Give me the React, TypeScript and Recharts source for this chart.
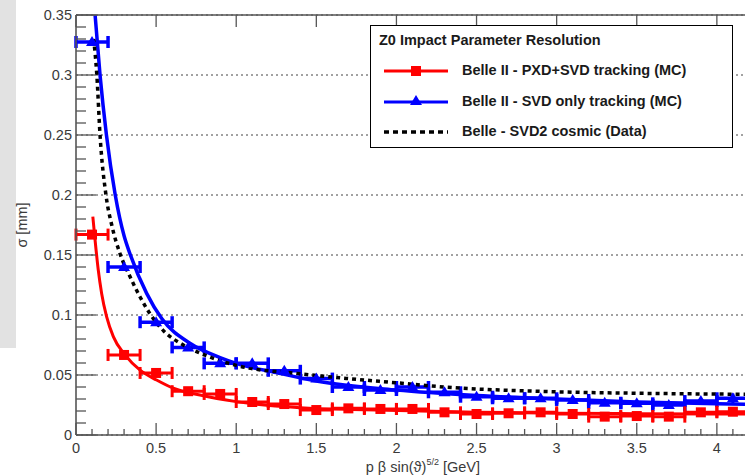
import React from 'react';
import { ComposedChart, Line, Scatter, XAxis, YAxis, CartesianGrid, ErrorBar } from 'recharts';

// bin centres (p beta sin^{5/2}) and half width
const binX = [0.1, 0.3, 0.5, 0.7, 0.9, 1.1, 1.3, 1.5, 1.7, 1.9, 2.1, 2.3, 2.5, 2.7, 2.9, 3.1, 3.3, 3.5, 3.7, 3.9, 4.1];
const binHalf = [0.1, 0.1, 0.1, 0.1, 0.1, 0.1, 0.1, 0.1, 0.1, 0.1, 0.1, 0.1, 0.1, 0.1, 0.1, 0.1, 0.1, 0.1, 0.1, 0.1, 0.1];

// Belle II - PXD+SVD tracking (MC)
const redSigma = [0.167, 0.0667, 0.0517, 0.0365, 0.0342, 0.0275, 0.0258, 0.0208, 0.0222, 0.0217, 0.0217, 0.0189, 0.0175, 0.0181, 0.0189, 0.0175, 0.0153, 0.0158, 0.0153, 0.0189, 0.0194];
const redErr = [0.002, 0.0015, 0.0015, 0.001, 0.001, 0.001, 0.001, 0.001, 0.001, 0.001, 0.001, 0.001, 0.001, 0.001, 0.001, 0.001, 0.001, 0.001, 0.001, 0.0015, 0.002];

// Belle II - SVD only tracking (MC)
const blueSigma = [0.3275, 0.14, 0.094, 0.073, 0.0597, 0.0597, 0.0535, 0.047, 0.04, 0.0375, 0.04, 0.0356, 0.0319, 0.0306, 0.0306, 0.0292, 0.0269, 0.0264, 0.025, 0.0283, 0.0306];
const blueErr = [0.002, 0.002, 0.0015, 0.0015, 0.001, 0.001, 0.001, 0.001, 0.001, 0.001, 0.003, 0.001, 0.001, 0.001, 0.001, 0.001, 0.001, 0.001, 0.001, 0.002, 0.004];

// fit curves
const redFitX = [0.105, 0.119, 0.139, 0.16, 0.191, 0.233, 0.306, 0.4, 0.503, 0.607, 0.774, 1.0, 1.4, 1.8, 2.5, 3.0, 3.5, 4.0, 4.6];
const redFitY = [0.182, 0.1625, 0.1375, 0.118, 0.0986, 0.082, 0.0667, 0.054, 0.0458, 0.039, 0.0333, 0.0278, 0.0228, 0.021, 0.019, 0.0182, 0.0178, 0.0175, 0.0172];

const blueFitX = [0.113, 0.15, 0.19, 0.245, 0.3, 0.337, 0.441, 0.535, 0.711, 0.899, 1.0, 1.25, 1.5, 2.0, 2.5, 3.0, 3.5, 4.0, 4.6];
const blueFitY = [0.36, 0.3, 0.25, 0.2, 0.166, 0.151, 0.118, 0.097, 0.0764, 0.0645, 0.0597, 0.052, 0.045, 0.0375, 0.033, 0.03, 0.0275, 0.026, 0.025];

const cosmicX = [0.11, 0.13, 0.15, 0.187, 0.223, 0.275, 0.337, 0.4, 0.462, 0.545, 0.67, 0.836, 1.0, 1.4, 1.7, 2.0, 2.3, 3.0, 3.5, 4.1, 4.6];
const cosmicY = [0.33, 0.3, 0.25, 0.2, 0.175, 0.151, 0.132, 0.115, 0.101, 0.087, 0.075, 0.065, 0.058, 0.051, 0.047, 0.0435, 0.04, 0.036, 0.0348, 0.034, 0.0335];

// axes
const yTicks = [0, 0.01, 0.02, 0.03, 0.04, 0.05, 0.06, 0.07, 0.08, 0.09, 0.1, 0.11, 0.12, 0.13, 0.14, 0.15, 0.16, 0.17, 0.18, 0.19, 0.2, 0.21, 0.22, 0.23, 0.24, 0.25, 0.26, 0.27, 0.28, 0.29, 0.3, 0.31, 0.32, 0.33, 0.34, 0.35];
const yMajor = [0, 0.05, 0.1, 0.15, 0.2, 0.25, 0.3, 0.35];
const yLabels = ['0', '0.05', '0.1', '0.15', '0.2', '0.25', '0.3', '0.35'];
const xTicks = [0, 0.1, 0.2, 0.3, 0.4, 0.5, 0.6, 0.7, 0.8, 0.9, 1, 1.1, 1.2, 1.3, 1.4, 1.5, 1.6, 1.7, 1.8, 1.9, 2, 2.1, 2.2, 2.3, 2.4, 2.5, 2.6, 2.7, 2.8, 2.9, 3, 3.1, 3.2, 3.3, 3.4, 3.5, 3.6, 3.7, 3.8, 3.9, 4, 4.1, 4.2, 4.3, 4.4, 4.5, 4.6];
const xMajor = [0, 0.5, 1, 1.5, 2, 2.5, 3, 3.5, 4, 4.5];
const xLabels = ['0', '0.5', '1', '1.5', '2', '2.5', '3', '3.5', '4', ''];

const legendTitle = 'Z0 Impact Parameter Resolution';
const seriesNames = ['Belle II - PXD+SVD tracking (MC)', 'Belle II - SVD only tracking (MC)', 'Belle - SVD2 cosmic (Data)'];

const RED = '#ff0000';
const BLUE = '#0000ff';
const AXIS = '#555';
const TXT = '#3a3a3a';
const FONT = '"Liberation Sans", Arial, Helvetica, sans-serif';

const redPoints = binX.map((x, i) => ({ x, y: redSigma[i], ex: binHalf[i], ey: redErr[i] }));
const bluePoints = binX.map((x, i) => ({ x, y: blueSigma[i], ex: binHalf[i], ey: blueErr[i] }));
const redFit = redFitX.map((x, i) => ({ x, y: redFitY[i] }));
const blueFit = blueFitX.map((x, i) => ({ x, y: blueFitY[i] }));
const cosmic = cosmicX.map((x, i) => ({ x, y: cosmicY[i] }));

const findIdx = (arr: number[], v: number) => arr.findIndex((m) => Math.abs(m - v) < 1e-6);

const YTick = (props: any) => {
  const { x, y, payload } = props;
  const idx = findIdx(yMajor, payload.value);
  const major = idx >= 0;
  return (
    <g>
      <line x1={x} x2={x + (major ? 20 : 10)} y1={y} y2={y} stroke={AXIS} strokeWidth={1.3} />
      {major && (
        <text x={x - 4} y={y + 5} textAnchor="end" fontSize={14.5} fill={TXT} fontFamily={FONT}>
          {yLabels[idx]}
        </text>
      )}
    </g>
  );
};

const XTick = (props: any) => {
  const { x, y, payload } = props;
  const idx = findIdx(xMajor, payload.value);
  const major = idx >= 0;
  return (
    <g>
      <line x1={x} x2={x} y1={y} y2={y - (major ? 12 : 6)} stroke={AXIS} strokeWidth={1.3} />
      {major && xLabels[idx] !== '' && (
        <text x={x} y={y + 18} textAnchor="middle" fontSize={14.5} fill={TXT} fontFamily={FONT}>
          {xLabels[idx]}
        </text>
      )}
    </g>
  );
};

const TopTick = (props: any) => {
  const { x, y, payload } = props;
  const major = findIdx(xMajor, payload.value) >= 0;
  return <line x1={x} x2={x} y1={y} y2={y + (major ? 12 : 6)} stroke={AXIS} strokeWidth={1.3} />;
};

const Square = (props: any) => {
  const { cx, cy } = props;
  return <rect x={cx - 5} y={cy - 5} width={10} height={10} fill={RED} />;
};

const Triangle = (props: any) => {
  const { cx, cy } = props;
  return <polygon points={`${cx},${cy - 6} ${cx - 6},${cy + 4} ${cx + 6},${cy + 4}`} fill={BLUE} />;
};

const XTitle = () => (
  <text x={480} y={472} textAnchor="end" fontSize={14.5} fill={TXT} fontFamily={FONT}>
    p β sin(ϑ)
    <tspan fontSize={9} dy={-7}>5/2</tspan>
    <tspan dy={7}> [GeV]</tspan>
  </text>
);

const YTitle = () => (
  <text x={27} y={225} transform="rotate(-90, 27, 225)" textAnchor="middle" fontSize={14.5} fill={TXT} fontFamily={FONT}>
    σ [mm]
  </text>
);

const LegendBox = () => (
  <div
    style={{
      position: 'absolute',
      left: 370,
      top: 25,
      width: 361,
      height: 121,
      border: '1px solid #000',
      background: '#fff',
      fontFamily: FONT,
      fontWeight: 'bold',
      fontSize: 14.5,
      color: '#1a1a1a',
    }}
  >
    <div style={{ position: 'absolute', left: 8, top: 6, whiteSpace: 'nowrap' }}>{legendTitle}</div>
    {seriesNames.map((name, i) => (
      <div key={name} style={{ position: 'absolute', left: 0, top: 35 + i * 30.5, height: 20, width: 361 }}>
        <svg width={80} height={20} style={{ position: 'absolute', left: 10, top: 0 }}>
          {i === 2 ? (
            <line x1={3} x2={67} y1={10} y2={10} stroke="#000" strokeWidth={3.5} strokeDasharray="5 4" />
          ) : (
            <line x1={3} x2={67} y1={10} y2={10} stroke={i === 0 ? RED : BLUE} strokeWidth={3} />
          )}
          {i === 0 && <rect x={30} y={5} width={10} height={10} fill={RED} />}
          {i === 1 && <polygon points="35,3 29,13 41,13" fill={BLUE} />}
        </svg>
        <div style={{ position: 'absolute', left: 91, top: 1, whiteSpace: 'nowrap' }}>{name}</div>
      </div>
    ))}
  </div>
);

export default function App() {
  return (
    <div style={{ position: 'fixed', left: 0, top: 0, width: 745, height: 476, overflow: 'hidden', background: '#fff' }}>
      <div style={{ position: 'absolute', left: 0, top: 0, width: 16, height: 348, background: '#e2e2e2' }} />
      <div style={{ position: 'absolute', left: 0, top: 0 }}>
        <ComposedChart width={813} height={476} margin={{ top: 0, right: 0, bottom: 0, left: 0 }}>
          <CartesianGrid
            stroke="#444"
            strokeWidth={1}
            strokeDasharray="2 3"
            horizontalValues={yMajor}
            verticalValues={xMajor}
          />
          <XAxis
            xAxisId="bottom"
            type="number"
            dataKey="x"
            domain={[0, 4.6]}
            allowDataOverflow
            ticks={xTicks}
            interval={0}
            tickSize={0}
            tickMargin={0}
            tickLine={false}
            tick={<XTick />}
            axisLine={{ stroke: AXIS, strokeWidth: 1.6 }}
            height={41}
            label={<XTitle />}
          />
          <XAxis
            xAxisId="top"
            orientation="top"
            type="number"
            dataKey="x"
            domain={[0, 4.6]}
            allowDataOverflow
            ticks={xMajor}
            interval={0}
            tickSize={0}
            tickMargin={0}
            tickLine={false}
            tick={<TopTick />}
            axisLine={{ stroke: AXIS, strokeWidth: 1.6 }}
            height={15}
          />
          <YAxis
            type="number"
            domain={[0, 0.35]}
            allowDataOverflow
            ticks={yTicks}
            interval={0}
            tickSize={0}
            tickMargin={0}
            tickLine={false}
            tick={<YTick />}
            axisLine={{ stroke: AXIS, strokeWidth: 1.6 }}
            width={76}
            label={<YTitle />}
          />
          <Line xAxisId="bottom" data={blueFit} dataKey="y" type="monotone" stroke={BLUE} strokeWidth={3.5} dot={false} isAnimationActive={false} />
          <Scatter xAxisId="bottom" data={bluePoints} dataKey="y" shape={<Triangle />} isAnimationActive={false}>
            <ErrorBar dataKey="ex" direction="x" width={6} stroke={BLUE} strokeWidth={3.5} />
            <ErrorBar dataKey="ey" direction="y" width={0} stroke={BLUE} strokeWidth={3} />
          </Scatter>
          <Line xAxisId="bottom" data={redFit} dataKey="y" type="monotone" stroke={RED} strokeWidth={3} dot={false} isAnimationActive={false} />
          <Scatter xAxisId="bottom" data={redPoints} dataKey="y" shape={<Square />} isAnimationActive={false}>
            <ErrorBar dataKey="ex" direction="x" width={6} stroke={RED} strokeWidth={3} />
            <ErrorBar dataKey="ey" direction="y" width={0} stroke={RED} strokeWidth={3} />
          </Scatter>
          <Line xAxisId="bottom" data={cosmic} dataKey="y" type="monotone" stroke="#000" strokeWidth={3.5} strokeDasharray="4 4" dot={false} isAnimationActive={false} />
        </ComposedChart>
      </div>
      <LegendBox />
    </div>
  );
}
